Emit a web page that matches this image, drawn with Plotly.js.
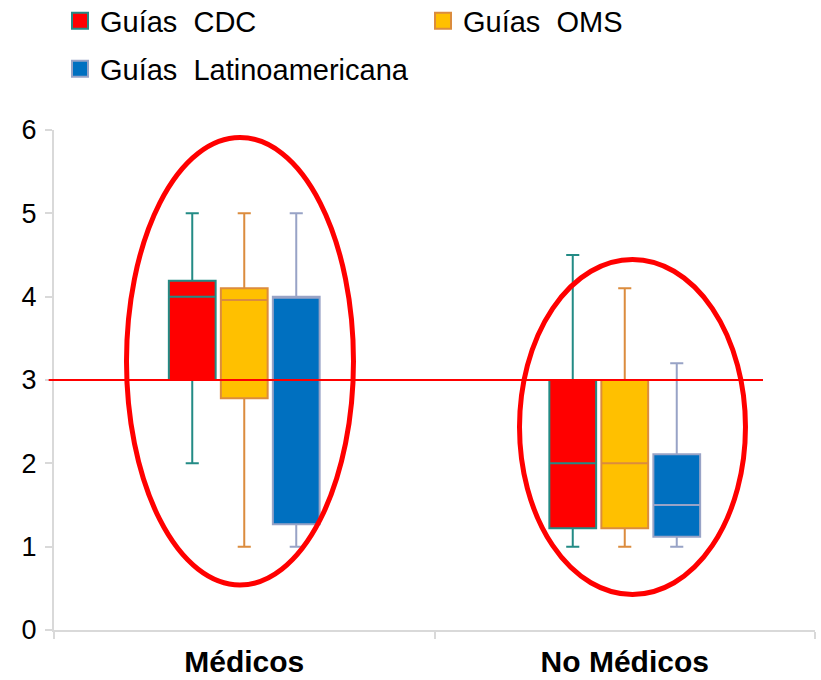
<!DOCTYPE html>
<html>
<head>
<meta charset="utf-8">
<script src="https://cdn.plot.ly/plotly-3.0.1.min.js"></script>
<style>html,body{margin:0;padding:0;background:#fff;}#chart{width:821px;height:680px;}</style>
</head>
<body>
<div id="chart"></div>
<script>
// ---- data ----
var categories = ["Médicos", "No Médicos"];
var seriesNames = ["Guías\u00a0 CDC", "Guías\u00a0 OMS", "Guías\u00a0 Latinoamericana"];

var cdcLower  = [2.0, 1.0];
var cdcQ1     = [3.0, 1.22];
var cdcMedian = [4.0, 2.0];
var cdcQ3     = [4.19, 3.0];
var cdcUpper  = [5.0, 4.5];

var omsLower  = [1.0, 1.0];
var omsQ1     = [2.78, 1.22];
var omsMedian = [3.96, 2.0];
var omsQ3     = [4.1, 3.0];
var omsUpper  = [5.0, 4.1];

var latLower  = [1.0, 1.0];
var latQ1     = [1.27, 1.12];
var latMedian = [4.0, 1.5];
var latQ3     = [4.0, 2.11];
var latUpper  = [5.0, 3.2];

var referenceValue = 3;
var yTicks = [0, 1, 2, 3, 4, 5, 6];

// ---- styles ----
var fills = ["#ff0000", "#ffc000", "#0070c0"];
var lines = ["#238b85", "#db8c3e", "#98a3c6"];
var FONT = "Liberation Sans, Arial, sans-serif";

function boxTrace(i, lo, q1, med, q3, up) {
  return {
    type: "box",
    name: seriesNames[i],
    x: categories,
    lowerfence: lo, q1: q1, median: med, q3: q3, upperfence: up,
    fillcolor: fills[i],
    line: {color: lines[i], width: 2},
    whiskerwidth: 0.28,
    boxpoints: false,
    showlegend: false,
    hoverinfo: "skip"
  };
}
function legendTrace(i, legendId) {
  return {
    type: "scatter", mode: "markers",
    x: [null], y: [null],
    name: seriesNames[i],
    marker: {symbol: "square", size: 16, color: fills[i], line: {color: lines[i], width: 2}},
    showlegend: true,
    legend: legendId,
    hoverinfo: "skip"
  };
}

var data = [
  boxTrace(0, cdcLower, cdcQ1, cdcMedian, cdcQ3, cdcUpper),
  boxTrace(1, omsLower, omsQ1, omsMedian, omsQ3, omsUpper),
  boxTrace(2, latLower, latQ1, latMedian, latQ3, latUpper),
  legendTrace(0, "legend"),
  legendTrace(1, "legend2"),
  legendTrace(2, "legend3")
];

var legendFont = {family: FONT, size: 29, color: "#000"};
function legendBox(x, y) {
  return {x: x, y: y, xref: "paper", yref: "paper", xanchor: "left", yanchor: "middle",
          bgcolor: "rgba(0,0,0,0)", borderwidth: 0, font: legendFont, orientation: "v"};
}

var layout = {
  width: 821, height: 680,
  margin: {l: 54, r: 6, t: 130, b: 50, pad: 0, autoexpand: false},
  paper_bgcolor: "#fff", plot_bgcolor: "#fff",
  font: {family: FONT, color: "#000"},
  boxmode: "group",
  boxgap: 0.59,
  boxgroupgap: 0.1,
  showlegend: true,
  legend: legendBox((60 - 54) / 761, (630 - 21) / 500),
  legend2: legendBox((423 - 54) / 761, (630 - 21) / 500),
  legend3: legendBox((60 - 54) / 761, (630 - 69) / 500),
  xaxis: {
    type: "category",
    categoryorder: "array", categoryarray: categories,
    range: [-0.5, 1.5],
    showline: true, linecolor: "#d9d9d9", linewidth: 2,
    ticks: "outside", tickson: "boundaries", ticklen: 7, tickcolor: "#d9d9d9", tickwidth: 2,
    tickfont: {family: FONT, size: 30, color: "#000", weight: "bold"},
    ticklabelstandoff: 4,
    showgrid: false, zeroline: false, automargin: false, fixedrange: true
  },
  yaxis: {
    range: [0, 6],
    tickvals: yTicks,
    showline: true, linecolor: "#d9d9d9", linewidth: 2,
    ticks: "outside", ticklen: 7, tickcolor: "#d9d9d9", tickwidth: 2,
    tickfont: {family: FONT, size: 27, color: "#000"},
    ticklabelstandoff: 3,
    showgrid: false, zeroline: false, automargin: false, fixedrange: true
  },
  shapes: [
    {type: "line", layer: "above", xref: "paper", yref: "y",
     x0: -0.007, x1: (763 - 54) / 761, y0: referenceValue, y1: referenceValue,
     line: {color: "#ff0000", width: 2}},
    {type: "circle", layer: "above", xref: "x", yref: "y",
     x0: -0.3095, x1: 0.2871, y0: 0.54, y1: 5.91,
     line: {color: "#ff0000", width: 5}},
    {type: "circle", layer: "above", xref: "x", yref: "y",
     x0: 0.7234, x1: 1.3173, y0: 0.426, y1: 4.446,
     line: {color: "#ff0000", width: 5}}
  ]
};

Plotly.newPlot("chart", data, layout, {staticPlot: true, displayModeBar: false});
</script>
</body>
</html>
